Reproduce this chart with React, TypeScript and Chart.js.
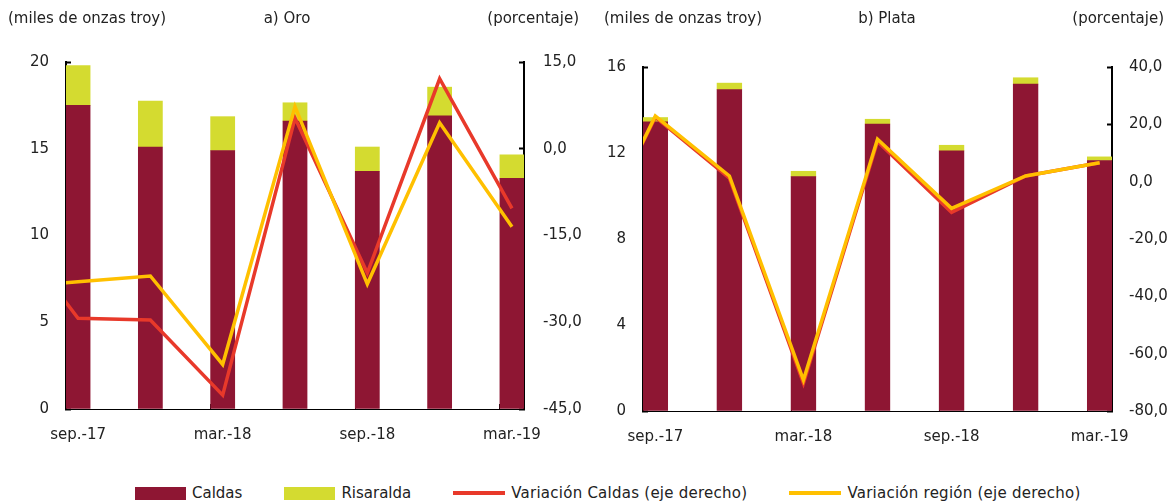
import React, { useEffect, useRef } from 'react';
import { Chart, registerables } from 'chart.js';

Chart.register(...registerables);

// ---- data ----
const months = [
  'jun.-17', 'jul.-17', 'ago.-17',
  'sep.-17', 'oct.-17', 'nov.-17', 'dic.-17', 'ene.-18', 'feb.-18',
  'mar.-18', 'abr.-18', 'may.-18', 'jun.-18', 'jul.-18', 'ago.-18',
  'sep.-18', 'oct.-18', 'nov.-18', 'dic.-18', 'ene.-19', 'feb.-19',
  'mar.-19',
];
const quarters = ['sep.-17', 'dic.-17', 'mar.-18', 'jun.-18', 'sep.-18', 'dic.-18', 'mar.-19'];
const lineQuarters = ['jun.-17', 'sep.-17', 'dic.-17', 'mar.-18', 'jun.-18', 'sep.-18', 'dic.-18', 'mar.-19'];
const xTickLabels = ['sep.-17', 'mar.-18', 'sep.-18', 'mar.-19'];

const oroCaldas = [17.5, 15.1, 14.9, 16.6, 13.7, 16.9, 13.3];
const oroRisaralda = [2.3, 2.65, 1.95, 1.05, 1.4, 1.65, 1.35];
const oroVarCaldas = [-13.0, -29.3, -29.6, -42.6, 5.3, -21.5, 12.1, -10.3];
const oroVarRegion = [-24.0, -23.0, -22.0, -37.3, 7.3, -23.4, 4.5, -13.5];

const plataCaldas = [13.45, 14.95, 10.9, 13.35, 12.1, 15.2, 11.65];
const plataRisaralda = [0.2, 0.3, 0.25, 0.22, 0.26, 0.3, 0.17];
const plataVarCaldas = [-30.0, 22.5, 1.2, -70.3, 14.0, -10.7, 2.0, 6.6];
const plataVarRegion = [-30.0, 22.9, 2.0, -69.2, 14.8, -9.3, 2.0, 6.6];

const seriesNames = ['Caldas', 'Risaralda', 'Variación Caldas (eje derecho)', 'Variación región (eje derecho)'];

// ---- styles ----
const MAROON = '#8E1633';
const LIME = '#D4DB30';
const RED = '#E8392A';
const GOLD = '#FFC000';
const FONT = '"DejaVu Sans", sans-serif';
const TEXT = '#222222';

type PanelProps = {
  caldas: number[];
  risaralda: number[];
  varCaldas: number[];
  varRegion: number[];
  yMax: number;
  yStep: number;
  y1Min: number;
  y1Max: number;
  y1Step: number;
  width: number;
  height: number;
  top: number;
  yW: number;
  y1W: number;
  xH: number;
  yPad: number;
  y1Pad: number;
  xPad: number;
};

function Panel(p: PanelProps) {
  const ref = useRef<HTMLCanvasElement | null>(null);
  useEffect(() => {
    if (!ref.current) return;
    const chart = new Chart(ref.current, {
      type: 'bar',
      data: {
        labels: months,
        datasets: [
          {
            type: 'line',
            label: seriesNames[3],
            data: lineQuarters.map((q, i) => ({ x: q, y: p.varRegion[i] })),
            yAxisID: 'y1',
            borderColor: GOLD,
            backgroundColor: GOLD,
            borderWidth: 3.5,
            pointRadius: 0,
            tension: 0,
            order: 0,
            clip: 0,
          } as any,
          {
            type: 'line',
            label: seriesNames[2],
            data: lineQuarters.map((q, i) => ({ x: q, y: p.varCaldas[i] })),
            yAxisID: 'y1',
            borderColor: RED,
            backgroundColor: RED,
            borderWidth: 3.5,
            pointRadius: 0,
            tension: 0,
            order: 1,
            clip: 0,
          } as any,
          {
            type: 'bar',
            label: seriesNames[0],
            data: quarters.map((q, i) => ({ x: q, y: p.caldas[i] })),
            yAxisID: 'y',
            backgroundColor: MAROON,
            stack: 's',
            order: 2,
            categoryPercentage: 1,
            barPercentage: 1,
          } as any,
          {
            type: 'bar',
            label: seriesNames[1],
            data: quarters.map((q, i) => ({ x: q, y: p.risaralda[i] })),
            yAxisID: 'y',
            backgroundColor: LIME,
            stack: 's',
            order: 3,
            categoryPercentage: 1,
            barPercentage: 1,
          } as any,
        ],
      },
      options: {
        animation: false,
        responsive: false,
        maintainAspectRatio: false,
        layout: { padding: { top: p.top, left: 0, right: 0, bottom: 0 } },
        plugins: {
          legend: { display: false },
          tooltip: { enabled: false },
          title: { display: false },
        },
        scales: {
          x: {
            type: 'category',
            min: 'sep.-17',
            offset: true,
            grid: {
              drawOnChartArea: false,
              offset: true,
              tickLength: -5,
              tickWidth: 1,
              color: (ctx: any) =>
                ctx.tick && xTickLabels.includes(months[ctx.tick.value]) ? '#000' : 'rgba(0,0,0,0)',
            },
            border: { display: true, color: '#000', width: 1 },
            ticks: {
              autoSkip: false,
              maxRotation: 0,
              minRotation: 0,
              padding: p.xPad,
              color: TEXT,
              font: { family: FONT, size: 15 },
              callback: (v: any) => (xTickLabels.includes(months[v]) ? months[v] : ''),
            },
            afterFit: (s: any) => {
              s.height = p.xH;
            },
          },
          y: {
            type: 'linear',
            position: 'left',
            stacked: true,
            min: 0,
            max: p.yMax,
            grid: { drawOnChartArea: false, tickLength: -5, tickWidth: 2, color: '#000' },
            border: { display: true, color: '#000', width: 2 },
            ticks: {
              stepSize: p.yStep,
              padding: p.yPad,
              color: TEXT,
              font: { family: FONT, size: 15 },
            },
            afterFit: (s: any) => {
              s.width = p.yW;
            },
          },
          y1: {
            type: 'linear',
            position: 'right',
            min: p.y1Min,
            max: p.y1Max,
            grid: { drawOnChartArea: false, tickLength: -5, tickWidth: 2, color: '#000' },
            border: { display: true, color: '#000', width: 2 },
            ticks: {
              stepSize: p.y1Step,
              padding: p.y1Pad,
              color: TEXT,
              font: { family: FONT, size: 15 },
              callback: (v: any) => Number(v).toFixed(1).replace('.', ','),
            },
            afterFit: (s: any) => {
              s.width = p.y1W;
            },
          },
        },
      } as any,
    });
    return () => chart.destroy();
  }, []);
  return <canvas ref={ref} width={p.width} height={p.height} style={{ width: p.width, height: p.height, display: 'block' }} />;
}

const textStyle: React.CSSProperties = {
  position: 'absolute',
  fontFamily: FONT,
  fontSize: 15,
  color: TEXT,
  lineHeight: '20px',
  whiteSpace: 'nowrap',
};

function LegendBox({ color, label }: { color: string; label: string }) {
  return (
    <div style={{ display: 'flex', alignItems: 'center' }}>
      <div style={{ width: 51, height: 13, background: color, marginRight: 6 }} />
      <span>{label}</span>
    </div>
  );
}
function LegendLine({ color, label }: { color: string; label: string }) {
  return (
    <div style={{ display: 'flex', alignItems: 'center' }}>
      <div style={{ width: 52, height: 4, background: color, marginRight: 6 }} />
      <span style={{ letterSpacing: 0.25 }}>{label}</span>
    </div>
  );
}

export default function App() {
  return (
    <div style={{ position: 'absolute', left: 0, top: 0, width: 1175, height: 503, background: '#fff', overflow: 'hidden' }}>
      <div style={{ position: 'absolute', left: 0, top: 0 }}>
        <Panel
          caldas={oroCaldas}
          risaralda={oroRisaralda}
          varCaldas={oroVarCaldas}
          varRegion={oroVarRegion}
          yMax={20}
          yStep={5}
          y1Min={-45}
          y1Max={15}
          y1Step={15}
          width={590}
          height={455}
          top={62}
          yW={66}
          y1W={66}
          xH={46}
          yPad={22}
          y1Pad={24}
          xPad={22}
        />
      </div>
      <div style={{ position: 'absolute', left: 590, top: 0 }}>
        <Panel
          caldas={plataCaldas}
          risaralda={plataRisaralda}
          varCaldas={plataVarCaldas}
          varRegion={plataVarRegion}
          yMax={16}
          yStep={4}
          y1Min={-80}
          y1Max={40}
          y1Step={20}
          width={585}
          height={455}
          top={67}
          yW={53}
          y1W={63}
          xH={44}
          yPad={22}
          y1Pad={22}
          xPad={22}
        />
      </div>

      <div style={{ ...textStyle, left: 8, top: 8 }}>(miles de onzas troy)</div>
      <div style={{ ...textStyle, left: 287, top: 8, transform: 'translateX(-50%)' }}>a) Oro</div>
      <div style={{ ...textStyle, right: 1175 - 579, top: 8 }}>(porcentaje)</div>
      <div style={{ ...textStyle, left: 604, top: 8 }}>(miles de onzas troy)</div>
      <div style={{ ...textStyle, left: 887, top: 8, transform: 'translateX(-50%)' }}>b) Plata</div>
      <div style={{ ...textStyle, right: 1175 - 1164, top: 8 }}>(porcentaje)</div>

      <div style={{ ...textStyle, left: 135, top: 483, display: 'flex', alignItems: 'center', gap: 42 }}>
        <LegendBox color={MAROON} label={seriesNames[0]} />
        <LegendBox color={LIME} label={seriesNames[1]} />
        <LegendLine color={RED} label={seriesNames[2]} />
        <LegendLine color={GOLD} label={seriesNames[3]} />
      </div>
    </div>
  );
}
